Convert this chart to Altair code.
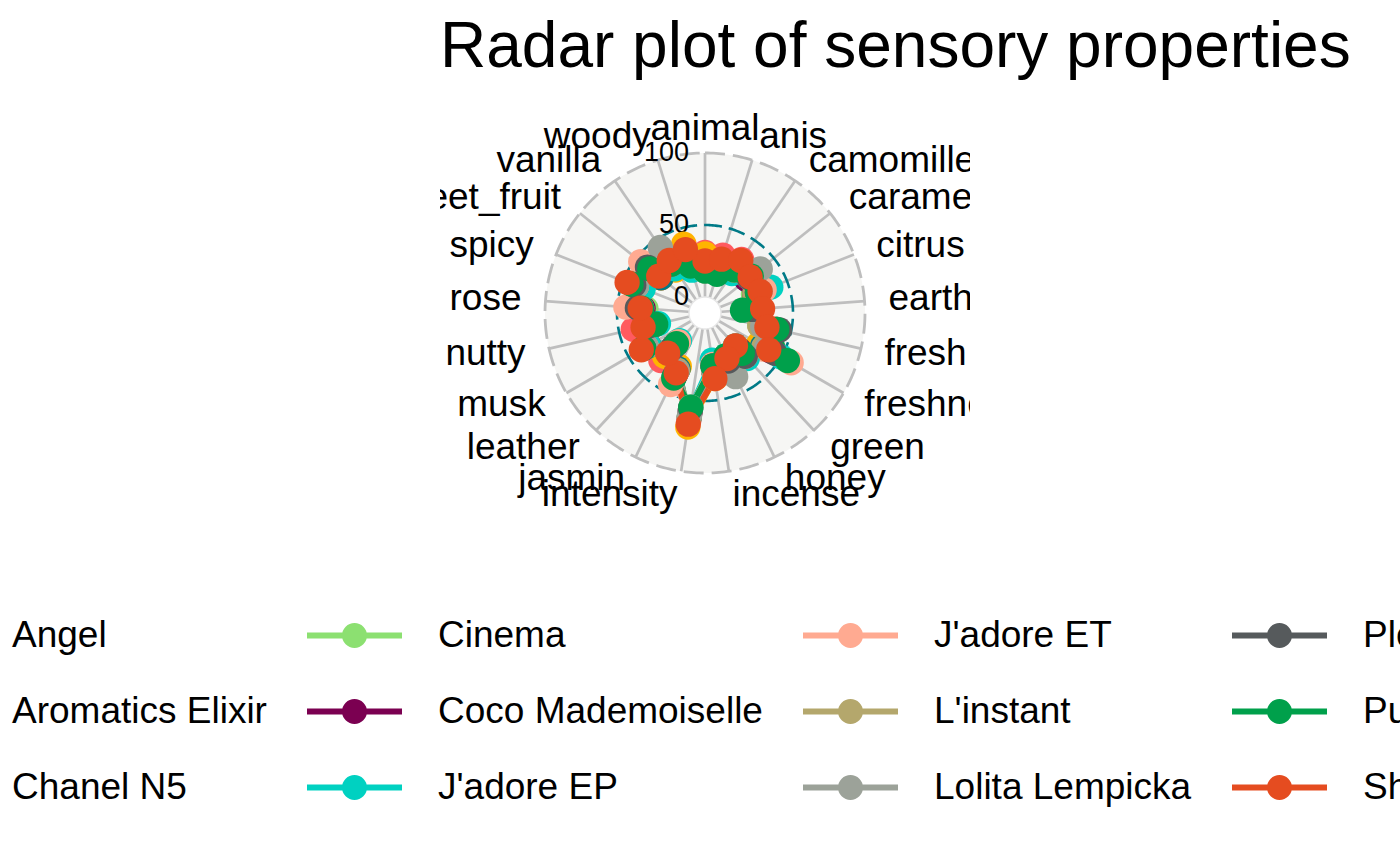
import altair as alt
import pandas as pd

attributes = ["animal", "anis", "camomille", "caramel", "citrus", "earthy", "fresh",
              "freshness", "green", "honey", "incense", "intensity", "jasmin", "leather",
              "musk", "nutty", "rose", "spicy", "sweet_fruit", "vanilla", "woody"]

perfumes = ["Angel", "Aromatics Elixir", "Chanel N5", "Cinema", "Coco Mademoiselle",
            "J'adore EP", "J'adore ET", "L'instant", "Lolita Lempicka", "Pleats Please",
            "Pure Poison", "Shalimar"]

palette = ["#FF5A5F", "#FFB400", "#007A87", "#8CE071", "#7B0051", "#00D1C1",
           "#FFAA91", "#B4A76C", "#9CA299", "#565A5C", "#00A04B", "#E54C20"]

angel = [31, 31, 34, 37, 28, 26, 28, 35, 22, 36, 30, 64, 33, 34, 37, 40, 33, 42, 28, 30, 38]
aromatics_elixir = [30, 26, 28, 28, 28, 27, 30, 32, 22, 25, 35, 69, 30, 30, 34, 30, 32, 42, 28, 25, 39]
chanel_n5 = [22, 22, 28, 26, 27, 24, 30, 35, 20, 25, 30, 62, 32, 22, 35, 28, 33, 40, 28, 28, 28]
cinema = [20, 20, 25, 30, 25, 20, 28, 40, 22, 25, 28, 57, 35, 20, 34, 25, 30, 38, 35, 32, 25]
coco_mademoiselle = [20, 18, 24, 26, 26, 22, 32, 42, 24, 24, 26, 58, 36, 18, 34, 24, 32, 38, 33, 28, 24]
jadore_ep = [18, 18, 22, 30, 38, 20, 38, 50, 32, 22, 22, 55, 38, 15, 34, 22, 35, 35, 35, 26, 20]
jadore_et = [18, 20, 25, 28, 33, 22, 38, 58, 30, 26, 25, 55, 44, 16, 36, 30, 44, 40, 46, 30, 24]
linstant = [22, 22, 26, 32, 26, 22, 28, 36, 20, 30, 30, 62, 33, 22, 36, 32, 33, 40, 32, 36, 30]
lolita_lempicka = [24, 25, 30, 38, 30, 24, 30, 38, 28, 38, 28, 60, 34, 22, 36, 30, 33, 40, 38, 44, 30]
pleats_please = [20, 20, 26, 28, 28, 22, 42, 45, 30, 26, 26, 56, 38, 22, 38, 28, 36, 42, 40, 30, 24]
pure_poison = [18, 17, 25, 30, 28, 15, 40, 55, 27, 22, 26, 55, 39, 18, 38, 24, 33, 44, 38, 30, 23]
shalimar = [25, 28, 33, 29, 30, 29, 33, 40, 20, 24, 35, 67, 35, 27, 40, 33, 34, 47, 30, 33, 35]

series = [angel, aromatics_elixir, chanel_n5, cinema, coco_mademoiselle, jadore_ep,
          jadore_et, linstant, lolita_lempicka, pleats_please, pure_poison, shalimar]

grid_levels = [0, 50, 100]
grid_labels = ["0", "50", "100"]

N = len(attributes)
CENTRE = 100.0 / 9.0          # radial shift (ggradar centre.y)
PX = 1.44                     # pixels per data unit
W, H = 530, 765
CX, CY = 265, 213             # centre inside the view (pixels)

rows = []
for p, vals in zip(perfumes, series):
    for i, a in enumerate(attributes):
        rows.append({"perfume": p, "attribute": a, "idx": i, "value": vals[i]})
    rows.append({"perfume": p, "attribute": attributes[0], "idx": N, "value": vals[0]})
df = pd.DataFrame(rows)

attr_df = pd.DataFrame({"attribute": attributes, "idx": list(range(N))})
grid_df = pd.DataFrame({"level": grid_levels, "label": grid_labels})

xs = alt.Scale(domain=[-CX / PX, (W - CX) / PX], nice=False, zero=False)
ys = alt.Scale(domain=[-(H - CY) / PX, CY / PX], nice=False, zero=False)

cscale = alt.Scale(domain=perfumes, range=palette)

ANG = f"datum.idx * 2 * PI / {N}"
RMAX = 100 + CENTRE

symbol_path = ("M-1,0L1,0"
               "M-0.2,0A0.2,0.2,0,1,1,0.2,0A0.2,0.2,0,1,1,-0.2,0Z"
               "M-0.137,0A0.137,0.137,0,1,1,0.137,0A0.137,0.137,0,1,1,-0.137,0Z"
               "M-0.063,0A0.063,0.063,0,1,1,0.063,0A0.063,0.063,0,1,1,-0.063,0Z")

FONT = "Liberation Sans"

# background disk
bg = alt.Chart(alt.sequence(0, 181, 1, as_="deg")).transform_calculate(
    px=f"{RMAX} * cos(datum.deg * PI / 180)",
    py=f"{RMAX} * sin(datum.deg * PI / 180)",
    py2=f"-{RMAX} * sin(datum.deg * PI / 180)",
).mark_area(color="#F6F6F4").encode(
    x=alt.X("px:Q", scale=xs, axis=None),
    y=alt.Y("py:Q", scale=ys, axis=None),
    y2="py2:Q",
)

spokes = alt.Chart(attr_df).transform_calculate(
    x0="0", y0="0",
    x1=f"{RMAX} * sin({ANG})",
    y1=f"{RMAX} * cos({ANG})",
).mark_rule(color="#BEBEBE", strokeWidth=2.7).encode(
    x=alt.X("x0:Q", scale=xs, axis=None),
    y=alt.Y("y0:Q", scale=ys, axis=None),
    x2="x1:Q", y2="y1:Q",
)

hole = alt.Chart(alt.sequence(0, 181, 2, as_="deg")).transform_calculate(
    px=f"{CENTRE} * cos(datum.deg * PI / 180)",
    py=f"{CENTRE} * sin(datum.deg * PI / 180)",
    py2=f"-{CENTRE} * sin(datum.deg * PI / 180)",
).mark_area(color="white", stroke="#E6E6E6", strokeWidth=1.5).encode(
    x=alt.X("px:Q", scale=xs, axis=None),
    y=alt.Y("py:Q", scale=ys, axis=None),
    y2="py2:Q",
)


def circle(level, color, dash, width):
    r = level + CENTRE
    return alt.Chart(alt.sequence(0, 361, 1, as_="deg")).transform_calculate(
        px=f"{r} * sin(datum.deg * PI / 180)",
        py=f"{r} * cos(datum.deg * PI / 180)",
    ).mark_line(color=color, strokeDash=dash, strokeWidth=width).encode(
        x=alt.X("px:Q", scale=xs, axis=None),
        y=alt.Y("py:Q", scale=ys, axis=None),
        order="deg:Q",
    )


mid_circle = circle(grid_levels[1], "#007A87", [17, 7], 2.6)
max_circle = circle(grid_levels[2], "#BEBEBE", [20, 8], 2.8)

grid_text = alt.Chart(grid_df).transform_calculate(
    px=f"-{CENTRE}", py=f"datum.level + {CENTRE}"
).mark_text(align="right", baseline="middle", fontSize=27, font=FONT, color="black").encode(
    x=alt.X("px:Q", scale=xs, axis=None),
    y=alt.Y("py:Q", scale=ys, axis=None),
    text="label:N",
)

LR = 1.15 * RMAX


def axis_labels(cond, align):
    return alt.Chart(attr_df).transform_calculate(
        px=f"{LR} * sin({ANG})",
        py=f"{LR} * cos({ANG})",
        s=f"sin({ANG})",
    ).transform_filter(cond).mark_text(
        align=align, baseline="middle", fontSize=37, font=FONT, color="black", clip=True
    ).encode(
        x=alt.X("px:Q", scale=xs, axis=None),
        y=alt.Y("py:Q", scale=ys, axis=None),
        text="attribute:N",
    )


lab_c = axis_labels("abs(datum.s) < 0.01", "center")
lab_r = axis_labels("datum.s >= 0.01", "left")
lab_l = axis_labels("datum.s <= -0.01", "right")

base = alt.Chart(df).transform_calculate(
    px=f"(datum.value + {CENTRE}) * sin({ANG})",
    py=f"(datum.value + {CENTRE}) * cos({ANG})",
)

lines = base.mark_line(strokeWidth=6, strokeJoin="round").encode(
    x=alt.X("px:Q", scale=xs, axis=None),
    y=alt.Y("py:Q", scale=ys, axis=None),
    color=alt.Color(
        "perfume:N", scale=cscale,
        legend=alt.Legend(
            orient="none", legendX=-562, legendY=485, columns=4, title=None,
            symbolType=symbol_path, symbolSize=9025, symbolStrokeWidth=6,
            symbolOpacity=1, labelFontSize=37, labelFont=FONT, labelColor="black",
            labelLimit=800, labelOffset=33, columnPadding=28, rowPadding=4,
            padding=0,
        ),
    ),
    order="idx:Q",
)

points = base.transform_filter(f"datum.idx < {N}").mark_point(
    filled=True, size=640, opacity=1
).encode(
    x=alt.X("px:Q", scale=xs, axis=None),
    y=alt.Y("py:Q", scale=ys, axis=None),
    color=alt.Color("perfume:N", scale=cscale, legend=None),
)

chart = alt.layer(
    bg, spokes, hole, mid_circle, max_circle, grid_text, lab_c, lab_r, lab_l, lines, points
).properties(
    width=W, height=H,
    autosize=alt.AutoSizeParams(type="none"),
    padding={"left": 440, "top": 100, "right": 430, "bottom": 0},
    title=alt.Title("Radar plot of sensory properties", anchor="start", fontSize=64,
                    font=FONT, fontWeight="normal", color="black", offset=20, frame="group"),
    background="white",
).configure_view(stroke=None)

chart.save("out.html", embed_options={"renderer": "svg", "actions": False})
